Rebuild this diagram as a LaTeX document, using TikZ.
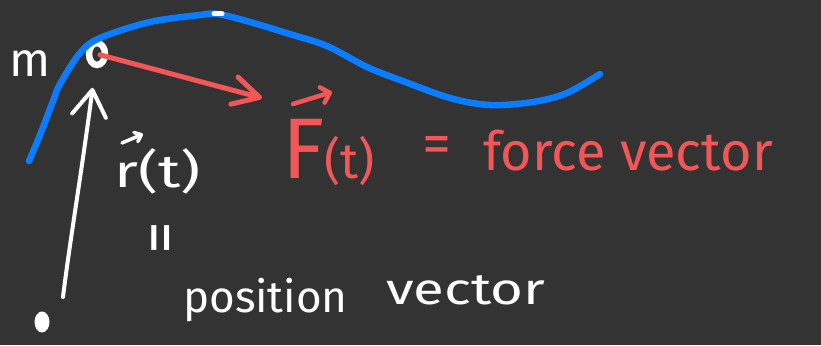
\documentclass[tikz,border=0pt]{standalone}
\usepackage{fontspec}
\setmainfont{Fira Sans}
\usetikzlibrary{arrows.meta,shapes.geometric}
\definecolor{bg}{HTML}{333333}
\definecolor{bluepen}{HTML}{0A7CFF}
\definecolor{redpen}{HTML}{F25656}
\tikzset{
  whitetext/.style={text=white, inner sep=0pt},
  redtext/.style={text=redpen, inner sep=0pt},
  whiteink/.style={draw=white, line width=4pt, line cap=round, line join=round},
  redink/.style={draw=redpen, line width=5pt, line cap=round, line join=round},
}
\begin{document}
\begin{tikzpicture}[x=1pt,y=-1pt]
\fill[bg] (0,0) rectangle (821,345);
\useasboundingbox (0,0) rectangle (821,345);

% mass and origin
\node[ellipse, draw=white, fill=bg, line width=6.5pt, minimum width=16pt, minimum height=22pt, inner sep=0pt] (mass) at (97,54) {};
\node[ellipse, fill=white, minimum width=15pt, minimum height=21pt, inner sep=0pt] (origin) at (42,322) {};
\coordinate (rstart) at (63,297);
\coordinate (ftip) at (262,98);

% trajectory
\draw[bluepen, line width=6.5pt, line cap=round, line join=round]
  plot[smooth, tension=0.55] coordinates {(29,161) (40,135) (53,101) (60,84) (80,53) (100,38) (150,22) (200,15) (218,14) (250,22) (293,35) (327,46) (367,67) (400,80) (450,98) (490,105) (533,102) (567,93) (600,74)};
% small mark on top
\draw[white, line width=5pt, line cap=round] (214,14) -- (222,14);

% position vector arrow
\draw[whiteink, -{Straight Barb[round, length=26pt, width=34pt]}, shorten >=20pt]
  (rstart) .. controls (70,240) and (82,170) .. (mass);
% force arrow
\draw[redink, -{Straight Barb[round, length=26pt, width=28pt]}, shorten <=3pt]
  (mass.center) -- (ftip);

% labels
\node[whitetext, anchor=base west, font=\fontsize{48}{48}\selectfont] (mlabel) at (9,77) {m};

\node[whitetext, anchor=base west, font=\fontsize{46}{46}\selectfont] (rlabel) at (114,187) {\scalebox{1.35}[1]{r(t)}};
\draw[whiteink, line width=3.5pt, -{Straight Barb[round, length=6pt, width=10pt]}] (122,143) -- (143,134);

\node[whitetext, anchor=center, rotate=90, font=\fontsize{66}{66}\selectfont] (eqv) at (167,238) {=};

\node[whitetext, anchor=base west, font=\fontsize{44}{44}\selectfont] (pos) at (183,312) {position};
\node[whitetext, anchor=base west, font=\fontsize{44}{44}\selectfont] (vecw) at (386,304) {\scalebox{1.28}[1]{vector}};

\node[redtext, anchor=base west] (Flabel) at (282,178) {{\fontsize{86}{86}\selectfont F}{\fontsize{50}{50}\selectfont (t)}};
\draw[redink, line width=4.5pt, -{Straight Barb[round, length=8pt, width=16pt]}] (293,104) -- (332,92);
\node[redtext, anchor=center, font=\fontsize{58}{58}\selectfont] (eqr) at (437,150) {=};
\node[redtext, anchor=base west, font=\fontsize{54}{54}\selectfont] (force) at (483,170) {force};
\node[redtext, anchor=base west, font=\fontsize{54}{54}\selectfont] (vecr) at (620,170) {vector};
\end{tikzpicture}
\end{document}
